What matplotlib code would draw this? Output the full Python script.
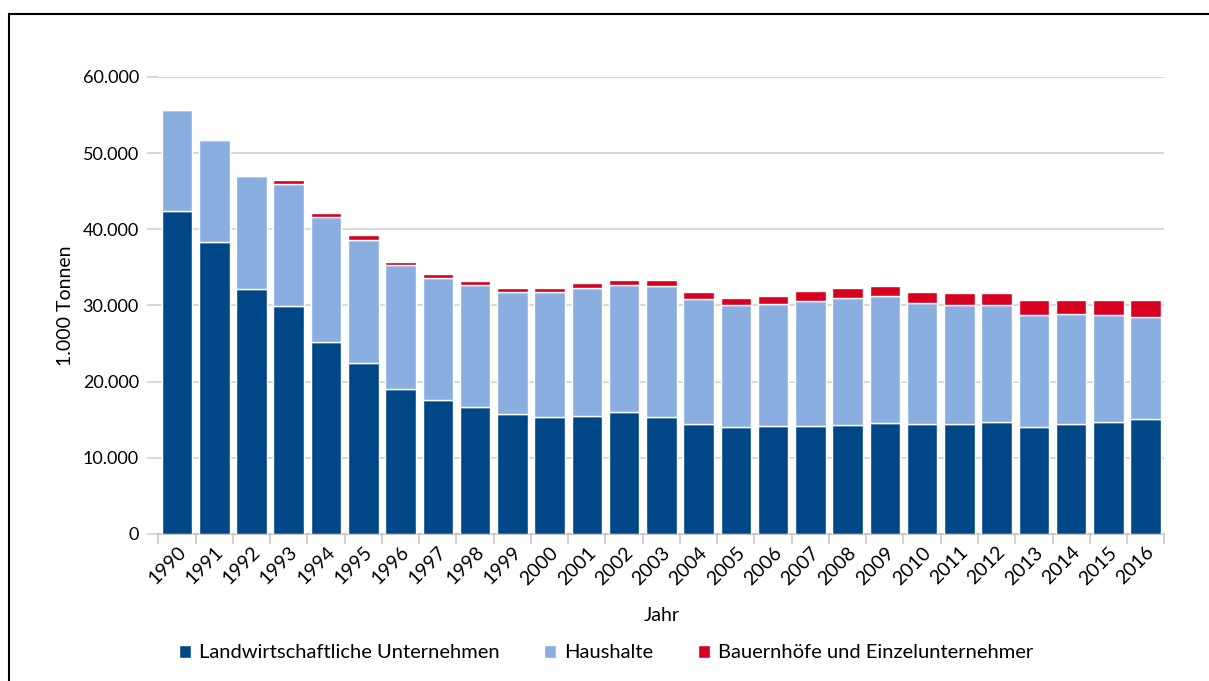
import matplotlib
matplotlib.use("Agg")
import matplotlib.pyplot as plt
from matplotlib.patches import Rectangle
from matplotlib.ticker import FuncFormatter, FixedLocator

plt.rcParams['font.family'] = ['Lato', 'DejaVu Sans']

years = [str(y) for y in range(1990, 2017)]
# 1.000 Tonnen
unternehmen = [42.4, 38.3, 32.2, 29.9, 25.2, 22.4, 19.0, 17.6, 16.7, 15.7,
               15.3, 15.5, 16.0, 15.4, 14.4, 14.0, 14.15, 14.15, 14.3, 14.5,
               14.4, 14.4, 14.7, 14.0, 14.4, 14.7, 15.1]
haushalte = [13.2, 13.4, 14.8, 16.0, 16.4, 16.2, 16.3, 16.0, 15.95, 16.1,
             16.4, 16.8, 16.7, 17.1, 16.5, 16.0, 16.0, 16.45, 16.7, 16.7,
             15.93, 15.67, 15.37, 14.7, 14.5, 14.0, 13.4]
bauernhoefe = [0.0, 0.0, 0.15, 0.6, 0.5, 0.6, 0.45, 0.5, 0.55, 0.5,
               0.55, 0.65, 0.7, 0.8, 0.9, 1.0, 1.05, 1.3, 1.3, 1.35,
               1.45, 1.5, 1.6, 2.0, 1.8, 2.0, 2.2]
series_names = ["Landwirtschaftliche Unternehmen", "Haushalte",
                "Bauernhöfe und Einzelunternehmer"]
colors = ["#004788", "#8aaee0", "#d7001f"]

fig = plt.figure(figsize=(12.09, 6.81), dpi=100)
ax = fig.add_axes([0.131, 0.216, 0.832, 0.671])

x = list(range(len(years)))
s1 = [v * 1000 for v in unternehmen]
s2 = [v * 1000 for v in haushalte]
s3 = [v * 1000 for v in bauernhoefe]
b2 = [a + b for a, b in zip(s1, s2)]

ax.bar(x, s1, width=0.82, color=colors[0], edgecolor="white", linewidth=1, label=series_names[0], zorder=3)
ax.bar(x, s2, width=0.82, bottom=s1, color=colors[1], edgecolor="white", linewidth=1, label=series_names[1], zorder=3)
ax.bar(x, s3, width=0.82, bottom=b2, color=colors[2], edgecolor="white", linewidth=1, label=series_names[2], zorder=3)

ax.set_xlim(-0.5, len(years) - 0.5)
ax.set_ylim(0, 60000)
ax.set_yticks(range(0, 60001, 10000))
ax.yaxis.set_major_formatter(FuncFormatter(lambda v, p: f"{int(v):,}".replace(",", ".")))
ax.grid(axis="y", color="#d9d9d9", linewidth=1.5, zorder=0)

ax.set_xticks(x)
ax.set_xticklabels(years, rotation=45, ha="right", rotation_mode="anchor")
ax.xaxis.set_minor_locator(FixedLocator([i - 0.5 for i in range(len(years) + 1)]))
ax.tick_params(axis="x", which="major", length=0, labelsize=14, pad=7)
ax.tick_params(axis="x", which="minor", length=7, color="#c8c8c8", width=1.2)
ax.tick_params(axis="y", length=8, color="#d9d9d9", width=1.5, labelsize=13, pad=6)

for side in ["top", "right", "left"]:
    ax.spines[side].set_visible(False)
ax.spines["bottom"].set_color("#c8c8c8")
ax.spines["bottom"].set_linewidth(1.5)

ax.set_xlabel("Jahr", fontsize=14, labelpad=14)
ax.set_ylabel("1.000 Tonnen", fontsize=14, labelpad=6)

fig.legend(loc="center", bbox_to_anchor=(606 / 1209, 1 - 653 / 681), ncol=3,
           frameon=False, fontsize=14.5, handlelength=0.6, handleheight=0.6,
           handletextpad=0.4, columnspacing=2.2)

# frame around the figure (cut off at right and bottom)
fig.patches.append(Rectangle((9 / 1209, -0.1), 1.2, 1.1 - 14 / 681, transform=fig.transFigure,
                             fill=False, edgecolor="black", linewidth=1.5))

fig.savefig("out.png", dpi=100)
